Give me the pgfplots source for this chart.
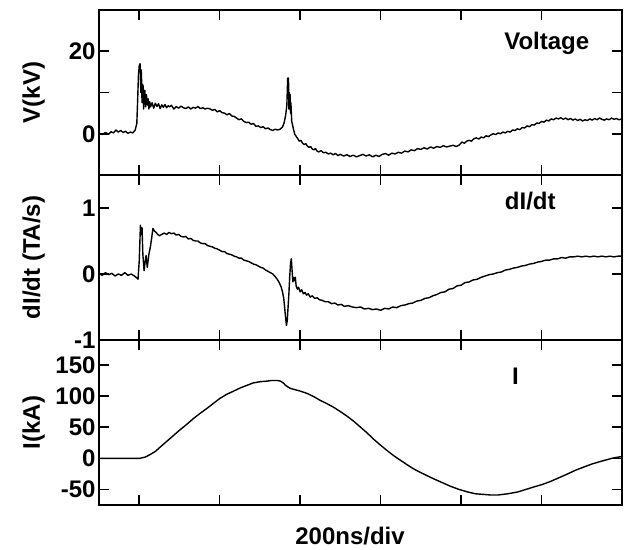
\documentclass[border=0pt]{standalone}
\usepackage{fontspec}
\setmainfont{Liberation Sans}
\usepackage{pgfplots}
\pgfplotsset{compat=1.18}
\begin{document}
\begin{tikzpicture}
\pgfplotsset{
  every axis/.append style={
    scale only axis,
    width=523bp, height=165bp,
    xmin=0, xmax=1300,
    xtick={100,300,500,700,900,1100},
    xticklabels={},
    axis line style={line width=1.7bp},
    tick style={line width=1.6bp, black},
    major tick length=10bp,
    minor tick length=10bp,
    tick align=inside,
    tick label style={font=\bfseries\fontsize{24bp}{28bp}\selectfont},
    label style={font=\bfseries\fontsize{24bp}{28bp}\selectfont},
    ylabel style={at={(axis description cs:-0.125,0.5)}, anchor=center},
  },
  trace/.style={black, line width=1.4bp, mark=none, line join=round},
}
% panel 1: voltage
\begin{axis}[at={(99bp,375bp)}, anchor=south west,
  ymin=-10, ymax=30, ytick={0,20}, yticklabels={0,20}, minor ytick={10},
  ylabel={V(kV)}]
\addplot[trace] coordinates {
(0,0.2) (8,-0.2) (16,0.3) (24,-0.1) (30,0.5) (36,0.2) (42,0.9) (48,0.4) (54,0.8) (60,0.3)
(66,0.6) (72,0.1) (78,0.4) (84,0.2) (90,0.9) (94,2.5) (96,8) (98,14) (100,16.5) (102,17)
(103,15) (104,10) (105,15.5) (106,12.5) (107,7.5) (108,12) (110,11.5) (111,6) (112,9) (114,10.5)
(116,6.5) (118,9.5) (120,7) (122,8.5) (124,6) (126,7.8) (128,6.5) (132,7.5) (136,6.2) (140,7.4)
(144,6.6) (148,7.3) (152,6.1) (156,7.0) (160,6.4) (164,7.1) (168,6.3) (172,6.8) (176,6.5) (180,6.9)
(186,6.0) (192,6.6) (198,6.2) (204,6.7) (210,6.3) (216,6.1) (222,6.5) (228,6.0) (234,6.4) (240,6.2)
(246,6.6) (252,6.1) (258,6.3) (264,6.0) (270,6.2) (276,6.0) (282,5.7) (288,5.9) (294,5.3) (300,5.6)
(306,5.1) (312,5.0) (318,4.6) (324,4.9) (330,4.3) (336,4.2) (342,3.8) (348,3.4) (354,3.6) (360,3.0)
(366,2.7) (372,2.8) (378,2.3) (384,2.5) (390,1.8) (396,1.9) (402,1.5) (408,1.7) (414,1.2) (420,1.4)
(426,1.0) (432,0.8) (438,1.1) (444,0.9) (450,1.1) (456,1.6) (460,2.6) (464,4.5) (467,7) (469,13.5)
(471,13.5) (472,6) (473,10) (474,7) (475,9.5) (476,5) (477,7.5) (479,3) (481,2.2) (484,0.8)
(487,-0.2) (490,-0.6) (494,-1.2) (498,-1.8) (502,-1.6) (506,-2.3) (510,-2.6) (514,-2.4) (518,-3.0) (522,-3.3)
(526,-3.1) (530,-3.7) (534,-3.9) (538,-3.6) (542,-4.2) (546,-4.4) (552,-4.1) (558,-4.6) (564,-4.5) (570,-4.9)
(576,-4.7) (582,-5.1) (588,-4.8) (594,-5.3) (600,-5.0) (608,-5.4) (616,-5.1) (624,-5.5) (632,-5.2) (640,-5.6)
(648,-5.3) (656,-5.0) (664,-5.4) (672,-5.1) (680,-5.6) (688,-5.2) (696,-5.5) (704,-5.0) (712,-4.8) (720,-5.2)
(728,-4.7) (736,-4.9) (744,-4.5) (752,-4.7) (760,-4.2) (768,-4.4) (776,-3.9) (784,-4.1) (792,-3.6) (800,-3.8)
(808,-3.4) (816,-3.7) (824,-3.2) (832,-3.5) (840,-3.1) (848,-3.3) (856,-2.9) (864,-3.2) (872,-3.0) (880,-2.8)
(888,-3.1) (896,-2.7) (902,-2.0) (908,-2.3) (914,-1.8) (920,-1.6) (926,-1.8) (932,-1.2) (938,-1.0) (944,-1.3)
(950,-0.8) (956,-1.0) (962,-0.5) (968,-0.7) (974,-0.3) (980,0.0) (986,-0.2) (992,0.2) (998,0.0) (1004,0.4)
(1010,0.2) (1016,0.6) (1022,0.4) (1028,0.9) (1034,0.8) (1040,1.2) (1046,1.0) (1052,1.5) (1058,1.4) (1064,1.9)
(1070,1.7) (1076,2.2) (1082,2.1) (1088,2.6) (1094,2.5) (1100,3.0) (1106,2.8) (1112,3.3) (1118,3.1) (1124,3.6)
(1130,3.4) (1136,3.8) (1142,3.6) (1148,3.9) (1154,3.5) (1160,3.8) (1166,3.4) (1172,3.7) (1178,3.3) (1184,3.6)
(1190,3.2) (1196,3.5) (1202,3.1) (1208,3.4) (1214,3.2) (1220,3.6) (1226,3.3) (1232,3.7) (1238,3.4) (1244,3.8)
(1250,3.5) (1256,3.3) (1262,3.6) (1268,3.4) (1274,3.8) (1280,3.5) (1286,3.7) (1292,3.4) (1300,3.6)
};
\node[anchor=base, font=\bfseries\fontsize{24bp}{28bp}\selectfont] at (axis cs:1113,20.4) {Voltage};
\end{axis}
% panel 2: dI/dt
\begin{axis}[at={(99bp,210bp)}, anchor=south west,
  ymin=-1, ymax=1.5, ytick={-1,0,1}, yticklabels={-1,0,1},
  ylabel={dI/dt (TA/s)}]
\addplot[trace] coordinates {
(0,0.01) (8,-0.02) (16,0.02) (24,-0.01) (32,0.01) (40,-0.03) (48,0.0) (56,-0.02) (64,0.02) (72,-0.02)
(80,0.0) (88,-0.03) (94,-0.06) (97,-0.08) (100,0.2) (103,0.74) (105,0.6) (107,0.7) (109,0.3) (112,0.05)
(115,0.2) (117,0.28) (120,0.1) (124,0.3) (128,0.42) (131,0.55) (134,0.69) (138,0.65) (142,0.63) (146,0.6)
(150,0.58) (156,0.6) (162,0.62) (168,0.6) (174,0.63) (180,0.61) (186,0.62) (192,0.59) (198,0.6) (204,0.57)
(210,0.56) (216,0.57) (222,0.53) (228,0.54) (234,0.51) (240,0.5) (246,0.5) (252,0.47) (258,0.46) (264,0.46)
(270,0.43) (276,0.42) (282,0.41) (288,0.39) (294,0.38) (300,0.36) (306,0.34) (312,0.34) (318,0.31) (324,0.3)
(330,0.29) (336,0.27) (342,0.26) (348,0.24) (354,0.24) (360,0.21) (366,0.2) (372,0.19) (378,0.17) (384,0.15)
(390,0.14) (396,0.12) (402,0.1) (408,0.09) (414,0.06) (420,0.04) (426,0.02) (432,0.0) (438,-0.04) (443,-0.08)
(448,-0.13) (453,-0.2) (456,-0.27) (459,-0.36) (461,-0.48) (463,-0.61) (465,-0.73) (466,-0.78) (468,-0.7) (470,-0.5)
(472,-0.3) (474,-0.05) (476,0.15) (478,0.23) (480,0.05) (482,-0.12) (484,-0.05) (486,-0.1) (488,-0.05) (490,-0.18)
(493,-0.23) (496,-0.2) (500,-0.27) (504,-0.24) (508,-0.3) (512,-0.28) (516,-0.32) (520,-0.3) (525,-0.35) (530,-0.33)
(536,-0.37) (542,-0.36) (548,-0.39) (555,-0.4) (562,-0.42) (570,-0.42) (578,-0.45) (586,-0.44) (594,-0.47) (602,-0.46)
(610,-0.49) (620,-0.48) (630,-0.5) (640,-0.51) (650,-0.5) (660,-0.53) (670,-0.52) (680,-0.54) (690,-0.53) (700,-0.55)
(710,-0.52) (720,-0.53) (730,-0.5) (740,-0.51) (750,-0.48) (760,-0.47) (770,-0.45) (780,-0.44) (790,-0.41) (800,-0.4)
(810,-0.37) (820,-0.36) (830,-0.33) (840,-0.31) (850,-0.28) (860,-0.27) (870,-0.23) (880,-0.22) (890,-0.18) (900,-0.17)
(910,-0.13) (920,-0.12) (930,-0.09) (940,-0.08) (950,-0.05) (960,-0.03) (970,-0.01) (980,0.0) (990,0.02) (1000,0.03)
(1010,0.06) (1020,0.07) (1030,0.09) (1040,0.1) (1050,0.12) (1060,0.13) (1070,0.15) (1080,0.16) (1090,0.18) (1100,0.19)
(1110,0.21) (1120,0.21) (1130,0.23) (1140,0.23) (1150,0.25) (1160,0.24) (1170,0.26) (1180,0.26) (1190,0.27) (1200,0.26)
(1210,0.27) (1220,0.26) (1230,0.27) (1240,0.26) (1250,0.27) (1260,0.26) (1270,0.27) (1280,0.26) (1290,0.27) (1300,0.27)
};
\node[anchor=base, font=\bfseries\fontsize{24bp}{28bp}\selectfont] at (axis cs:1072,0.98) {dI/dt};
\end{axis}
% panel 3: current
\begin{axis}[at={(99bp,45bp)}, anchor=south west,
  ymin=-75, ymax=190, ytick={-50,0,50,100,150}, yticklabels={-50,0,50,100,150},
  ylabel={I(kA)},
  xlabel={200ns/div},
  xlabel style={at={(axis description cs:0.48,-0.242)}, anchor=base}]
\addplot[trace] coordinates {
(0,0) (102,0) (115,2) (127,6) (140,11) (152,18) (168,27) (184,36) (200,45) (219,55)
(235,64) (251,72) (268,80) (284,88) (300,96) (318,103) (335,108) (351,113) (367,117) (383,121)
(400,123) (418,124) (430,125) (443,125) (451,124) (458,121) (464,117) (471,114) (477,112) (483,111)
(500,108) (518,104) (534,99) (550,93) (566,88) (583,82) (600,75) (618,67) (634,59) (650,50)
(666,41) (682,31) (700,21) (717,12) (733,4) (749,-3) (765,-10) (782,-17) (800,-23) (816,-28)
(832,-33) (853,-39) (874,-45) (895,-50) (916,-54) (936,-57) (956,-58) (975,-59) (991,-59) (1016,-57)
(1041,-54) (1061,-50) (1081,-46) (1102,-42) (1123,-37) (1144,-31) (1165,-25) (1185,-19) (1205,-14) (1226,-9)
(1247,-5) (1275,0) (1300,3)
};
\node[anchor=base, font=\bfseries\fontsize{24bp}{28bp}\selectfont] at (axis cs:1035,119) {I};
\end{axis}
\pgfresetboundingbox
\path (0,0) rectangle (624bp,550bp);
\end{tikzpicture}
\end{document}
